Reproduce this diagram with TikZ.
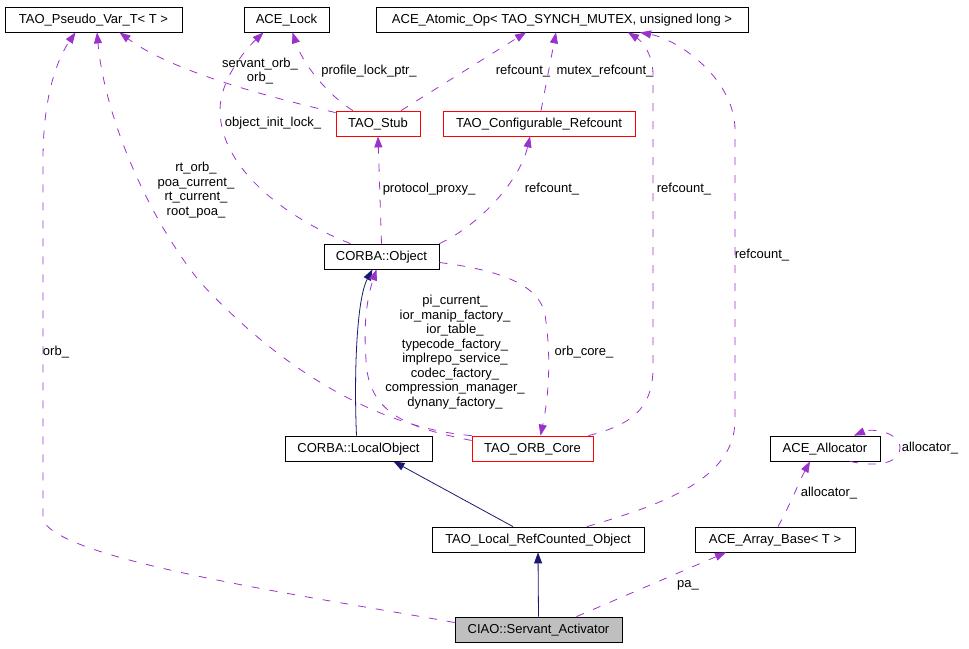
\documentclass[tikz,border=0pt]{standalone}
\usepackage{fontspec}
\setmainfont{Liberation Sans}
\usetikzlibrary{arrows.meta}
\definecolor{edgepurple}{RGB}{154,50,205}
\definecolor{edgenavy}{RGB}{25,25,112}
\definecolor{boxgray}{RGB}{191,191,191}
\tikzset{
  cls/.style = {draw=black, line width=0.8pt, minimum height=25pt, inner sep=0pt, text height=9.5pt, text depth=2.5pt, font=\fontsize{13}{14.5}\selectfont},
  undoc/.style = {cls, draw=red},
  current/.style = {cls, fill=boxgray},
  inherit/.style = {draw=edgenavy, line width=0.8pt, -{Triangle[length=11pt,width=8pt]}},
  member/.style = {draw=edgepurple, line width=0.8pt, dash pattern=on 8pt off 10pt, -{Triangle[length=11pt,width=8pt]}},
  lbl/.style = {align=center, inner sep=0pt, font=\fontsize{13}{14.5}\selectfont}
}

\begin{document}
\begin{tikzpicture}[x=1pt, y=-1pt]
\useasboundingbox (0,0) rectangle (969,648);
% CLASSES
\node[cls, minimum width=177pt] (pseudovar) at (93.5,19.5) {TAO\_Pseudo\_Var\_T< T >};
\node[cls, minimum width=85pt] (acelock) at (286.5,19.5) {ACE\_Lock};
\node[cls, minimum width=372pt] (atomicop) at (562,19.5) {ACE\_Atomic\_Op< TAO\_SYNCH\_MUTEX, unsigned long >};
\node[undoc, minimum width=84pt] (taostub) at (378,123.5) {TAO\_Stub};
\node[undoc, minimum width=192pt] (cfgrefcount) at (539,123.5) {TAO\_Configurable\_Refcount};
\node[cls, minimum width=115pt] (corbaobj) at (381.5,256.5) {CORBA::Object};
\node[cls, minimum width=147pt] (localobj) at (358.5,448.5) {CORBA::LocalObject};
\node[undoc, minimum width=121pt] (orbcore) at (532.5,448.5) {TAO\_ORB\_Core};
\node[cls, minimum width=110pt] (allocator) at (825,448.5) {ACE\_Allocator};
\node[cls, minimum width=212pt] (refcounted) at (538,539.5) {TAO\_Local\_RefCounted\_Object};
\node[cls, minimum width=160pt] (arraybase) at (775,539.5) {ACE\_Array\_Base< T >};
\node[current, minimum width=167pt] (activator) at (538.5,629.5) {CIAO::Servant\_Activator};
% INHERITANCE
\draw[inherit] (activator.north) -- (refcounted.south);
\draw[inherit] ([xshift=-25]refcounted.north) -- ([xshift=35]localobj.south);
\draw[inherit] ([xshift=-2]localobj.north) .. controls (354,380) and (356,300) .. ([xshift=-9]corbaobj.south);
% USAGE
\draw[member] ([yshift=7]activator.west) .. controls (300,595) and (60,560) .. (43,520) -- (43,160)
  .. controls (43,90) and (60,55) .. ([xshift=-18]pseudovar.south);
\draw[member] ([xshift=38]activator.north) -- ([xshift=-49]arraybase.south);
\draw[member] ([xshift=3]arraybase.north) .. controls (790,505) and (800,480) .. ([xshift=-15]allocator.south);
\draw[member] ([xshift=25]allocator.south) .. controls (880,468) and (900,462) .. (900,448)
  .. controls (900,432) and (872,428) .. ([xshift=29]allocator.north);
\draw[member] ([xshift=49]refcounted.north) .. controls (660,505) and (735,480) .. (735,420) -- (735,130)
  .. controls (735,80) and (680,40) .. ([xshift=78]atomicop.south);
\draw[member] ([xshift=56]orbcore.north) .. controls (630,425) and (652,410) .. (653,370) -- (653,75)
  .. controls (653,52) and (640,40) .. ([xshift=66]atomicop.south);
\draw[member] ([xshift=23]taostub.north) -- ([xshift=-36]atomicop.south);
\draw[member] ([xshift=2]cfgrefcount.north) -- ([xshift=-6]atomicop.south);
\draw[member] ([xshift=-25]taostub.north) .. controls (335,100) and (305,70) .. ([xshift=6]acelock.south);
\draw[member] ([yshift=-2]taostub.north west) .. controls (260,95) and (170,70) .. ([xshift=26]pseudovar.south);
\draw[member] ([xshift=-31]corbaobj.north) .. controls (290,220) and (220,170) .. (220,110)
  .. controls (220,80) and (245,50) .. ([xshift=-23]acelock.south);
\draw[member] (corbaobj.north) -- (taostub.south);
\draw[member] (corbaobj.north east) .. controls (480,225) and (520,180) .. ([xshift=-9]cfgrefcount.south);
\draw[member] ([yshift=-6]corbaobj.east) .. controls (500,270) and (540,285) .. (545,315)
  .. controls (552,360) and (548,400) .. ([xshift=8]orbcore.north);
\draw[member] (orbcore.north west) .. controls (400,430) and (300,390) .. (200,282)
  .. controls (150,220) and (105,120) .. ([xshift=3.5]pseudovar.south);
\draw[member] ([yshift=8]orbcore.west) .. controls (410,428) and (368,415) .. (366,360)
  .. controls (363,320) and (368,295) .. ([xshift=-5]corbaobj.south);
% LABELS
\node[lbl] (l-orb) at (56,352) {orb\_};
\node[lbl] (l-pa) at (688,585) {pa\_};
\node[lbl] (l-alloc) at (829,493) {allocator\_};
\node[lbl] (l-selfalloc) at (930,448) {allocator\_};
\node[lbl] (l-refcnt-local) at (762,255) {refcount\_};
\node[lbl] (l-refcnt-core) at (684,189) {refcount\_};
\node[lbl] (l-refcnt-stub) at (523,71) {refcount\_};
\node[lbl] (l-mutex) at (605,71) {mutex\_refcount\_};
\node[lbl] (l-profile) at (369,71) {profile\_lock\_ptr\_};
\node[lbl] (l-servant) at (260,71) {servant\_orb\_\\orb\_};
\node[lbl] (l-initlock) at (273,123) {object\_init\_lock\_};
\node[lbl] (l-proxy) at (429,189) {protocol\_proxy\_};
\node[lbl] (l-refcnt-obj) at (552,189) {refcount\_};
\node[lbl] (l-orbcore) at (584,352) {orb\_core\_};
\node[lbl] (l-rtorb) at (196,190) {rt\_orb\_\\poa\_current\_\\rt\_current\_\\root\_poa\_};
\node[lbl] (l-picurrent) at (455,352) {pi\_current\_\\ior\_manip\_factory\_\\ior\_table\_\\typecode\_factory\_\\implrepo\_service\_\\codec\_factory\_\\compression\_manager\_\\dynany\_factory\_};
\end{tikzpicture}
\end{document}
